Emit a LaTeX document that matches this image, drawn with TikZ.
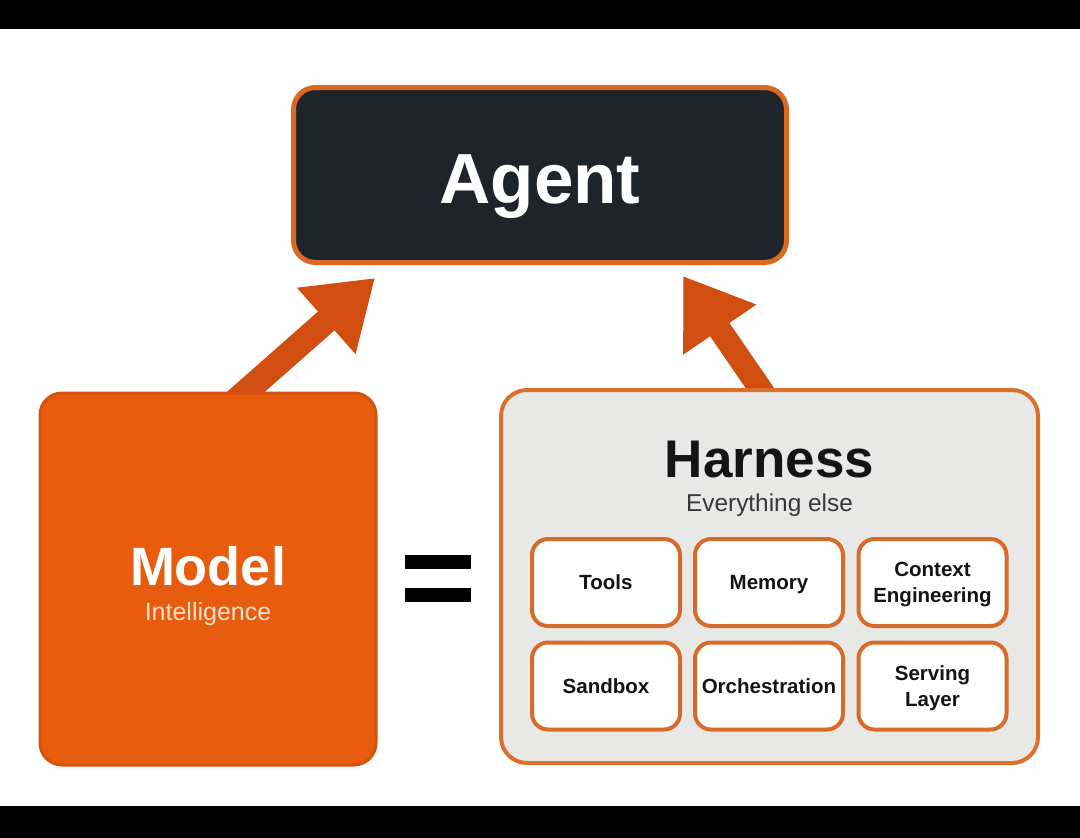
\documentclass[tikz,border=0pt]{standalone}
\usepackage{fontspec}
\setmainfont{Liberation Sans}
\usetikzlibrary{arrows.meta,backgrounds}
\definecolor{agentfill}{HTML}{1F242B}
\definecolor{agentborder}{HTML}{DA6A22}
\definecolor{modelfill}{HTML}{E85D0D}
\definecolor{modelborder}{HTML}{D4520E}
\definecolor{arrowcol}{HTML}{D24D10}
\definecolor{harnessfill}{HTML}{E8E8E6}
\definecolor{harnessborder}{HTML}{D9702E}
\definecolor{partborder}{HTML}{D86A2A}
\definecolor{textdark}{HTML}{141414}
\begin{document}
\begin{tikzpicture}[x=1pt,y=-1pt,
  agentbox/.style={draw=agentborder, line width=5pt, fill=agentfill, rounded corners=22pt,
    minimum width=493pt, minimum height=175pt, inner sep=0pt},
  modelbox/.style={draw=modelborder, line width=3pt, fill=modelfill, rounded corners=22pt,
    minimum width=336pt, minimum height=372pt, inner sep=0pt},
  harnessbox/.style={draw=harnessborder, line width=4pt, fill=harnessfill, rounded corners=26pt,
    minimum width=537pt, minimum height=373pt, inner sep=0pt},
  partbox/.style={draw=partborder, line width=4pt, fill=white, rounded corners=16pt,
    minimum width=148pt, minimum height=87pt, inner sep=0pt, align=center,
    font=\fontsize{20.5}{26}\selectfont\bfseries, text depth=0pt, text=textdark},
  lbl/.style={inner sep=0pt, anchor=base},
  bigarrow/.style={draw=arrowcol, line width=#1, -{Triangle[length=65pt,width=84pt]}}
]
\begin{scope}[on background layer]
  \fill[white] (0,0) rectangle (1080,838);
\end{scope}
\useasboundingbox (0,0) rectangle (1080,838);
\fill[black] (0,0) rectangle (1080,29);
\fill[black] (0,806) rectangle (1080,838);

% main boxes
\node[agentbox] (agent) at (540,175) {};
\node[lbl, text=white, font=\fontsize{71}{80}\selectfont\bfseries] (agentlbl) at (540,203) {Agent};

\node[modelbox] (model) at (208,579) {};
\node[lbl, text=white, font=\fontsize{54}{60}\selectfont\bfseries] (modellbl) at (208,585) {Model};
\node[lbl, text=white!80!modelfill, font=\fontsize{25}{30}\selectfont] (modelsub) at (208,620) {Intelligence};

\node[harnessbox] (harness) at (769.5,576.5) {};
\node[lbl, text=textdark, font=\fontsize{53}{60}\selectfont\bfseries] (harnesslbl) at (769.5,477) {Harness};
\node[lbl, text=textdark!85!white, font=\fontsize{24.4}{30}\selectfont] (harnesssub) at (769.5,511) {Everything else};

% equals sign
\fill[black] (405,555) rectangle (471,569);
\fill[black] (405,588) rectangle (471,602);

% harness parts
\node[partbox] (tools) at (606,582.5) {Tools};
\node[partbox] (memory) at (769,582.5) {Memory};
\node[partbox] (context) at (932.5,582.5) {Context\\Engineering};
\node[partbox] (sandbox) at (606,686) {Sandbox};
\node[partbox] (orch) at (769,686) {Orchestration};
\node[partbox] (serving) at (932.5,686) {Serving\\Layer};

% arrows
\begin{scope}[on background layer]
  \draw[bigarrow=25pt] ([xshift=19pt,yshift=-17pt]model.north) -- ([xshift=-165pt,yshift=-13pt]agent.south);
  \draw[bigarrow=23.5pt] ([xshift=2pt,yshift=-17pt]harness.north) -- ([xshift=143pt,yshift=-11pt]agent.south);
\end{scope}
\end{tikzpicture}
\end{document}
